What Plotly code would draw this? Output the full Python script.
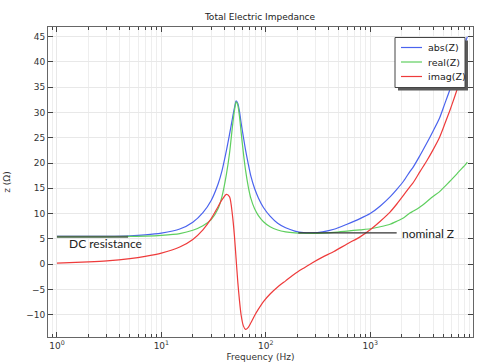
import plotly.graph_objects as go

# ---- data ----
freq = [1, 2, 3, 5, 7, 10, 15, 20, 25, 30, 35, 38, 42, 45, 48, 50, 52, 54, 56, 58,
        61, 64, 68, 72, 78, 85, 95, 110, 130, 155, 190, 230, 280, 350, 450, 600,
        800, 1000, 1250, 1550, 1800, 2100, 2400, 2600, 3000, 3500, 4000, 4600,
        5200, 5800, 6400, 7000, 7600, 8100, 8530]

abs_z = [5.5, 5.5, 5.52, 5.62, 5.8, 6.15, 6.95, 8.3, 10.2, 12.6, 15.9, 18.4, 22.5, 25.7,
         28.9, 30.8, 32.3, 31.8, 30.2, 28.0, 25.2, 22.6, 19.8, 17.4, 15.0, 13.1, 11.2,
         9.5, 8.1, 7.2, 6.55, 6.25, 6.2, 6.4, 6.9, 7.9, 9.0, 10.0, 11.5, 13.3, 14.8,
         16.5, 18.3, 19.3, 21.5, 24.0, 26.3, 28.8, 31.8, 34.5, 37.2, 39.7, 42.0, 43.6, 45.0]

real_z = [5.45, 5.45, 5.46, 5.5, 5.55, 5.7, 6.05, 6.7, 7.6, 8.8, 11.0, 13.3, 17.8, 22.0,
          27.3, 30.2, 32.1, 31.4, 29.2, 26.2, 22.0, 18.6, 15.3, 13.0, 11.0, 9.6, 8.4,
          7.4, 6.75, 6.4, 6.2, 6.12, 6.1, 6.15, 6.3, 6.55, 6.8, 7.0, 7.4, 7.9, 8.5,
          9.2, 10.1, 10.5, 11.3, 12.4, 13.4, 14.3, 15.4, 16.4, 17.3, 18.2, 19.0, 19.6, 20.2]

imag_z = [0.22, 0.45, 0.65, 1.1, 1.55, 2.2, 3.4, 4.9, 6.8, 9.0, 11.4, 12.7, 13.8, 13.3,
          9.6, 5.8, 1.0, -3.6, -7.2, -10.0, -12.2, -12.9, -12.5, -11.6, -10.2, -8.9, -7.4,
          -5.9, -4.5, -3.3, -1.9, -0.8, 0.3, 1.4, 2.5, 4.0, 5.4, 6.8, 8.5, 10.3, 11.9,
          13.7, 15.3, 16.2, 18.3, 20.5, 22.6, 25.0, 27.8, 30.4, 32.9, 35.3, 37.4, 38.8, 40.0]

series_names = ["abs(Z)", "real(Z)", "imag(Z)"]
series_colors = ["#4a63ee", "#5fcf5f", "#ee3b3b"]

# annotation guide lines (data coordinates)
dc_x = [1, 4.8]
dc_y = [5.4, 5.4]
nominal_x = [205, 1794]
nominal_y = [6.2, 6.2]

major_x = [1, 10, 100, 1000]
major_x_text = ["10<sup>0</sup>", "10<sup>1</sup>", "10<sup>2</sup>", "10<sup>3</sup>"]
decades = [0.1, 1, 10, 100, 1000]
minor_x = [d * k for d in decades for k in range(2, 10) if d * k != 1]

FONT = "DejaVu Sans"
W, H = 482, 363
L, R, T, B = 48, 9, 27, 26
PW, PH = W - L - R, H - T - B


def px(xp):
    return (xp - L) / PW


def py(yp):
    return (H - B - yp) / PH


fig = go.Figure()
for name, vals, col in zip(series_names, [abs_z, real_z, imag_z], series_colors):
    fig.add_trace(go.Scatter(x=freq, y=vals, mode="lines", name=name, showlegend=False,
                             line=dict(color=col, width=1.2, shape="spline", smoothing=0.7)))

fig.add_shape(type="line", xref="x", yref="y", x0=dc_x[0], x1=dc_x[1], y0=dc_y[0], y1=dc_y[1],
              line=dict(color="#4f6a4f", width=2), layer="above")
fig.add_shape(type="line", xref="x", yref="y", x0=nominal_x[0], x1=nominal_x[1],
              y0=nominal_y[0], y1=nominal_y[1], line=dict(color="#333333", width=1.2), layer="above")

fig.add_annotation(x=0.097, y=4.0, xref="x", yref="y", text="DC resistance", showarrow=False,
                   xanchor="left", yanchor="middle", font=dict(family="Lato", size=12, color="#222"))
fig.add_annotation(x=3.285, y=6.1, xref="x", yref="y", text="nominal Z", showarrow=False,
                   xanchor="left", yanchor="middle", font=dict(family="Lato", size=12, color="#222"))

# custom legend (box, shadow, samples, labels)
box = (395, 465, 37.5, 87.5)
fig.add_shape(type="rect", xref="paper", yref="paper",
              x0=px(box[0] + 3), x1=px(box[1] + 3), y0=py(box[3] + 3), y1=py(box[2] + 3),
              fillcolor="#5a5a5a", line=dict(width=0), layer="above")
fig.add_shape(type="rect", xref="paper", yref="paper",
              x0=px(box[0]), x1=px(box[1]), y0=py(box[3]), y1=py(box[2]),
              fillcolor="white", line=dict(color="#444444", width=1), layer="above")
for i, (name, col) in enumerate(zip(series_names, series_colors)):
    yy = 47.5 + i * 14.5
    fig.add_shape(type="line", xref="paper", yref="paper", x0=px(401), x1=px(422),
                  y0=py(yy), y1=py(yy), line=dict(color=col, width=1.2), layer="above")
    fig.add_annotation(x=px(426), y=py(yy), xref="paper", yref="paper", text=name,
                       showarrow=False, xanchor="left", yanchor="middle",
                       font=dict(family=FONT, size=9.5, color="#222"))

axis_common = dict(showline=True, linecolor="#666666", linewidth=1, mirror="ticks",
                   ticks="inside", tickcolor="#444444", gridcolor="#e8e8e8",
                   tickfont=dict(family=FONT, size=9, color="#333"), zeroline=False,
                   automargin=False)

fig.update_xaxes(type="log", range=[-0.086, 3.985], tickmode="array", tickvals=major_x,
                 ticktext=major_x_text, ticklen=5,
                 minor=dict(tickmode="array", tickvals=minor_x, ticks="inside", ticklen=3,
                            tickcolor="#444444", showgrid=True, gridcolor="#eeeeee"),
                 title=dict(text="Frequency (Hz)", font=dict(family=FONT, size=9, color="#333"),
                            standoff=3),
                 **axis_common)
fig.update_yaxes(range=[-14.4, 46.9], dtick=5, tick0=0, ticklen=5,
                 title=dict(text="z (Ω)", font=dict(family=FONT, size=9, color="#333"), standoff=14),
                 **axis_common)

fig.update_layout(
    width=W, height=H,
    margin=dict(l=L, r=R, t=T, b=B),
    paper_bgcolor="white", plot_bgcolor="white",
    title=dict(text="Total Electric Impedance", x=px(260), xref="paper",
               y=1 - 17 / H, yref="container", xanchor="center", yanchor="middle",
               font=dict(family=FONT, size=9, color="#222")),
    showlegend=False,
)

fig.write_html("out.html", config={"displayModeBar": False},
               post_script="document.body.style.margin='0px';")
